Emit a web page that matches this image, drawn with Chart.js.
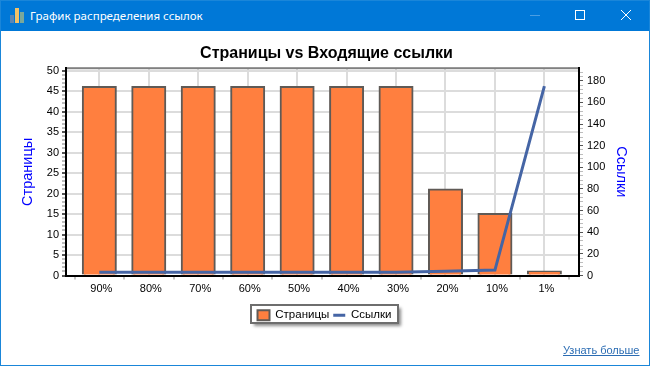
<!DOCTYPE html>
<html>
<head>
<meta charset="utf-8">
<title>График распределения ссылок</title>
<script src="https://cdn.jsdelivr.net/npm/chart.js@4"></script>
<style>
  html, body { margin: 0; padding: 0; background: #fff; overflow: hidden; }
  #win { position: relative; width: 650px; height: 366px; box-sizing: border-box; background: #fff; }
  #frame { position: absolute; inset: 0; border: 1px solid #1a86d9; box-sizing: border-box; pointer-events: none; }
  #bar { position: absolute; left: 0; top: 0; width: 650px; height: 31px; background: #0078d7; }
  #caption { position: absolute; left: 30px; top: 7px; color: #fff; font: 11.5px "Noto Sans", sans-serif; line-height: 17px; white-space: nowrap; }
  #bar svg { position: absolute; left: 0; top: 0; }
  #more { position: absolute; left: 563px; top: 344px; color: #2b6cb3; font: 11px "Liberation Sans", sans-serif; text-decoration: underline; }
  canvas { position: absolute; left: 0; top: 0; }
</style>
</head>
<body>
<div id="win">
  <canvas id="links-chart" width="650" height="366"></canvas>
  <div id="bar">
    <svg width="650" height="31">
      <rect x="10" y="15" width="4" height="8" fill="#5b86b5"/>
      <rect x="15" y="8" width="4" height="15" fill="#f2c168"/>
      <rect x="20" y="12" width="4" height="11" fill="#7aa89a"/>
      <line x1="530" y1="15.5" x2="540" y2="15.5" stroke="#4a9ee3"/>
      <rect x="575.5" y="10.5" width="9" height="9" fill="none" stroke="#fff"/>
      <path d="M621 10 L631 20 M631 10 L621 20" stroke="#fff" fill="none"/>
    </svg>
    <div id="caption">График распределения ссылок</div>
  </div>
  <div id="frame"></div>
  <a id="more" href="#">Узнать больше</a>
</div>
<script>
const categories = ["90%", "80%", "70%", "60%", "50%", "40%", "30%", "20%", "10%", "1%"];
const pages = [46, 46, 46, 46, 46, 46, 46, 21, 15, 1];
const links = [3, 3, 3, 3, 3, 3, 3, 4, 5, 175];
const halfSteps = [-0.5, 0, 0.5, 1, 1.5, 2, 2.5, 3, 3.5, 4, 4.5, 5, 5.5, 6, 6.5, 7, 7.5, 8, 8.5, 9, 9.5];

const FONT = "'Liberation Sans', Arial, sans-serif";

// legend frame and the grey top edge of the plot
const framePlugin = {
  id: "framePlugin",
  afterLayout(chart) {
    chart.titleBlock.left += 4;
  },
  beforeDraw(chart) {
    const ctx = chart.ctx;
    ctx.save();
    ctx.shadowColor = "rgba(0,0,0,0.45)";
    ctx.shadowOffsetX = 3;
    ctx.shadowOffsetY = 3;
    ctx.shadowBlur = 3;
    ctx.fillStyle = "#fff";
    ctx.fillRect(251, 305, 147, 18);
    ctx.shadowColor = "transparent";
    ctx.strokeStyle = "#6e6e6e";
    ctx.lineWidth = 2;
    ctx.strokeRect(251, 305, 147, 18);
    ctx.restore();
  },
  afterDatasetsDraw(chart) {
    const a = chart.chartArea;
    const ctx = chart.ctx;
    ctx.save();
    ctx.fillStyle = "#808080";
    ctx.fillRect(a.left, a.top - 1, a.right - a.left, 2);
    ctx.restore();
  }
};

new Chart(document.querySelector("#links-chart").getContext("2d"), {
  type: "bar",
  data: {
    datasets: [
      {
        type: "line",
        label: "Ссылки",
        data: links.map((v, i) => ({ x: i, y: v })),
        yAxisID: "y2",
        borderColor: "#4565a5",
        backgroundColor: "#4565a5",
        borderWidth: 3,
        pointRadius: 0,
        pointStyle: "line",
        tension: 0,
        order: 1
      },
      {
        type: "bar",
        label: "Страницы",
        data: pages.map((v, i) => ({ x: i, y: v })),
        yAxisID: "y",
        backgroundColor: "#ff7f3f",
        borderColor: "#5f5a56",
        borderWidth: 2,
        barThickness: 33,
        inflateAmount: 1,
        pointStyle: "rect",
        order: 2
      }
    ]
  },
  plugins: [framePlugin],
  options: {
    responsive: false,
    animation: false,
    layout: { padding: { left: 19, right: 20, top: 44, bottom: 35 } },
    plugins: {
      tooltip: { enabled: false },
      title: {
        display: true,
        text: "Страницы vs Входящие ссылки",
        color: "#000",
        font: { family: FONT, size: 16, weight: "bold" },
        padding: { top: 0, bottom: 5 }
      },
      legend: {
        position: "bottom",
        reverse: true,
        labels: {
          usePointStyle: true,
          pointStyleWidth: 12,
          boxHeight: 10,
          padding: 4,
          color: "#000",
          font: { family: FONT, size: 11.5 }
        }
      }
    },
    scales: {
      x: {
        type: "linear",
        offset: false,
        min: -0.674,
        max: 9.70,
        afterFit(scale) { scale.height = 30; },
        afterBuildTicks(scale) { scale.ticks = halfSteps.map(v => ({ value: v })); },
        border: { color: "#000", width: 2, z: 1 },
        grid: {
          offset: false,
          color: c => c.tick && Number.isInteger(c.tick.value) ? "#dcdcdc" : "transparent",
          lineWidth: 2,
          tickColor: c => c.tick && Number.isInteger(c.tick.value) ? "transparent" : "#c4c4c4",
          tickLength: 4
        },
        ticks: {
          autoSkip: false,
          maxRotation: 0,
          labelOffset: 2,
          padding: 3,
          color: "#000",
          font: { family: FONT, size: 11 },
          callback: v => Number.isInteger(v) ? categories[v] : ""
        }
      },
      y: {
        position: "left",
        min: 0,
        max: 50.6,
        afterFit(scale) { scale.width = 47; },
        afterBuildTicks(scale) { scale.ticks = scale.ticks.filter(t => Number.isInteger(t.value)); },
        border: { color: "#000", width: 2, z: 1 },
        grid: {
          color: c => c.tick && c.tick.value % 5 === 0 ? "#dcdcdc" : "transparent",
          lineWidth: 2,
          tickColor: c => c.tick && c.tick.value % 5 === 0 ? "#555" : "#bdbdbd",
          tickLength: 4
        },
        ticks: {
          stepSize: 1,
          includeBounds: false,
          autoSkip: false,
          padding: 3,
          color: "#000",
          font: { family: FONT, size: 11 },
          callback: v => v % 5 === 0 ? v : ""
        },
        title: {
          display: true,
          text: "Страницы",
          color: "#0000ff",
          font: { family: FONT, size: 14.5 },
          padding: 0
        }
      },
      y2: {
        position: "right",
        min: 0,
        max: 191.6,
        afterFit(scale) { scale.width = 51; },
        afterBuildTicks(scale) { scale.ticks = scale.ticks.filter(t => t.value % 4 === 0); },
        border: { color: "#000", width: 2, z: 1 },
        grid: {
          drawOnChartArea: false,
          tickColor: c => c.tick && c.tick.value % 20 === 0 ? "#555" : "#bdbdbd",
          tickLength: 4
        },
        ticks: {
          stepSize: 4,
          includeBounds: false,
          autoSkip: false,
          padding: 4,
          color: "#000",
          font: { family: FONT, size: 11 },
          callback: v => v % 20 === 0 ? v : ""
        },
        title: {
          display: true,
          text: "Ссылки",
          color: "#0000ff",
          font: { family: FONT, size: 14.5 },
          padding: 0
        }
      }
    }
  }
});
</script>
</body>
</html>
